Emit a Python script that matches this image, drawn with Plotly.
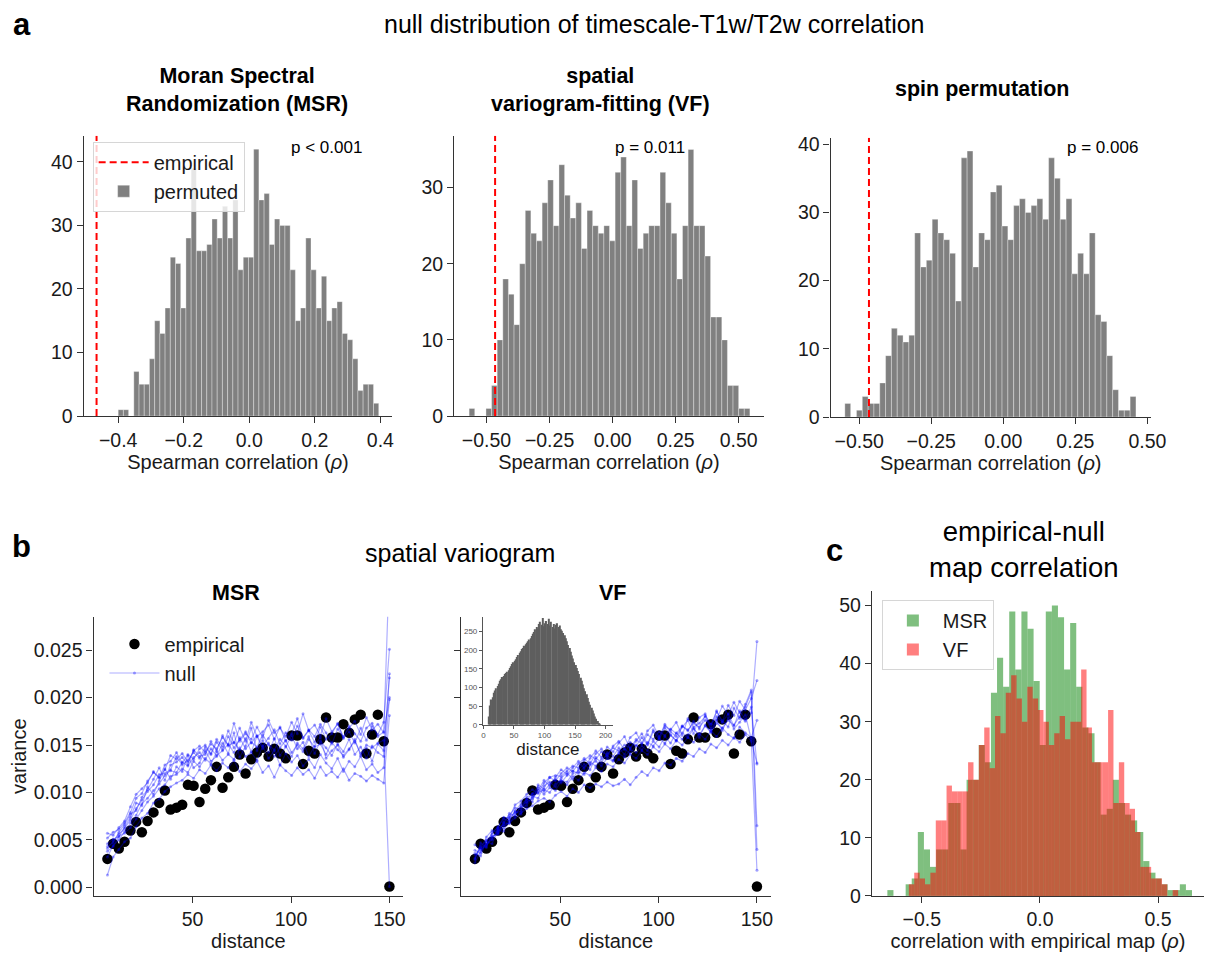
import plotly.graph_objects as go

W, H = 1224, 960
FONT = "Liberation Sans, Arial, Helvetica, sans-serif"
TXT = "#1a1a1a"
SPINE = "#333333"

# ---------------- panel a: null distributions (counts per histogram bin) ----------------
msr_perm_counts = [1, 1, 0, 7, 5, 5, 9, 15, 13, 17, 25, 24, 17, 28, 39, 26, 26, 27, 31, 28,
                   33, 28, 34, 23, 25, 25, 42, 34, 35, 27, 31, 30, 30, 23, 15, 17, 28, 23, 17, 22,
                   15, 17, 18, 13, 12, 9, 4, 5, 5, 2]
msr_bin_start, msr_bin_width = -0.400, 0.0159

vf_perm_counts = [1, 0, 0, 1, 4, 10, 18, 16, 12, 20, 27, 24, 23, 28, 31, 25, 33, 29, 26, 28,
                  22, 27, 25, 24, 25, 23, 32, 34, 25, 31, 22, 24, 25, 25, 32, 28, 24, 18, 25, 35,
                  25, 25, 21, 13, 13, 10, 4, 4, 1, 1]
vf_bin_start, vf_bin_width = -0.569, 0.02227

spin_perm_counts = [2, 0, 1, 3, 2, 2, 5, 9, 13, 12, 11, 12, 27, 22, 23, 29, 27, 26, 24, 17,
                    38, 39, 22, 27, 26, 33, 34, 28, 26, 31, 32, 30, 31, 32, 29, 38, 35, 29, 32, 21,
                    24, 21, 27, 15, 14, 9, 4, 1, 1, 3]
spin_bin_start, spin_bin_width = -0.5497, 0.0202

empirical_rho = -0.466
p_labels = ["p < 0.001", "p = 0.011", "p = 0.006"]

# ---------------- panel b: spatial variograms ----------------
distance_bins = [6.7, 9.6, 12.5, 15.4, 18.4, 21.3, 24.2, 27.1, 30.1, 33.0,
                 35.9, 38.8, 41.8, 44.7, 47.6, 50.5, 53.5, 56.4, 59.3, 62.2,
                 65.2, 68.1, 71.0, 73.9, 76.9, 79.8, 82.7, 85.6, 88.6, 91.5,
                 94.4, 97.3, 100.3, 103.2, 106.1, 109.0, 112.0, 114.9, 117.8, 120.7,
                 123.7, 126.6, 129.5, 132.4, 135.4, 138.3, 141.2, 144.1, 147.1, 150.0]

empirical_variance = [0.0030, 0.0046, 0.0041, 0.0048, 0.0060, 0.0069, 0.0058, 0.0070, 0.0079, 0.0089,
                      0.0102, 0.0082, 0.0084, 0.0087, 0.0108, 0.0107, 0.0090, 0.0104, 0.0113, 0.0127,
                      0.0105, 0.0116, 0.0127, 0.0140, 0.0120, 0.0135, 0.0142, 0.0147, 0.0138, 0.0146,
                      0.0141, 0.0136, 0.0160, 0.0160, 0.0130, 0.0144, 0.0141, 0.0156, 0.0179, 0.0158,
                      0.0158, 0.0172, 0.0163, 0.0177, 0.0182, 0.0141, 0.0161, 0.0182, 0.0154, 0.0001]

msr_null_variance = [
    [0.0052, 0.0058, 0.0061, 0.0068, 0.0079, 0.0094, 0.0099, 0.0112, 0.0121, 0.0116, 0.0124, 0.0139, 0.0135, 0.0141, 0.0132, 0.0144, 0.0149, 0.0142, 0.0151, 0.0146, 0.0158, 0.0150, 0.0173, 0.0154, 0.0162, 0.0156, 0.0169, 0.0158, 0.0176, 0.0163, 0.0168, 0.0159, 0.0174, 0.0162, 0.0183, 0.0165, 0.0171, 0.0160, 0.0178, 0.0164, 0.0172, 0.0159, 0.0168, 0.0175, 0.0161, 0.0179, 0.0166, 0.0172, 0.0163, 0.0340],
    [0.0041, 0.0049, 0.0056, 0.0062, 0.0071, 0.0083, 0.0092, 0.0101, 0.0108, 0.0119, 0.0120, 0.0124, 0.0138, 0.0129, 0.0134, 0.0142, 0.0136, 0.0148, 0.0140, 0.0153, 0.0145, 0.0159, 0.0147, 0.0156, 0.0164, 0.0152, 0.0160, 0.0149, 0.0157, 0.0166, 0.0151, 0.0163, 0.0155, 0.0170, 0.0158, 0.0165, 0.0153, 0.0169, 0.0156, 0.0162, 0.0173, 0.0157, 0.0164, 0.0152, 0.0168, 0.0155, 0.0170, 0.0161, 0.0174, 0.0251],
    [0.0032, 0.0044, 0.0050, 0.0059, 0.0068, 0.0076, 0.0088, 0.0094, 0.0102, 0.0109, 0.0118, 0.0123, 0.0121, 0.0132, 0.0128, 0.0137, 0.0142, 0.0134, 0.0146, 0.0139, 0.0144, 0.0151, 0.0142, 0.0158, 0.0146, 0.0153, 0.0148, 0.0161, 0.0150, 0.0145, 0.0156, 0.0149, 0.0138, 0.0152, 0.0146, 0.0159, 0.0141, 0.0154, 0.0147, 0.0139, 0.0151, 0.0143, 0.0156, 0.0140, 0.0148, 0.0136, 0.0149, 0.0142, 0.0138, 0.0225],
    [0.0046, 0.0051, 0.0053, 0.0064, 0.0074, 0.0089, 0.0086, 0.0106, 0.0098, 0.0112, 0.0125, 0.0114, 0.0127, 0.0122, 0.0139, 0.0126, 0.0131, 0.0145, 0.0133, 0.0138, 0.0152, 0.0141, 0.0163, 0.0137, 0.0149, 0.0168, 0.0144, 0.0155, 0.0142, 0.0157, 0.0139, 0.0148, 0.0160, 0.0146, 0.0153, 0.0138, 0.0149, 0.0158, 0.0136, 0.0144, 0.0150, 0.0137, 0.0145, 0.0156, 0.0139, 0.0147, 0.0133, 0.0151, 0.0144, 0.0221],
    [0.0038, 0.0043, 0.0054, 0.0057, 0.0063, 0.0072, 0.0081, 0.0090, 0.0096, 0.0104, 0.0108, 0.0117, 0.0119, 0.0125, 0.0121, 0.0133, 0.0127, 0.0136, 0.0130, 0.0143, 0.0134, 0.0140, 0.0135, 0.0147, 0.0138, 0.0142, 0.0134, 0.0149, 0.0136, 0.0144, 0.0129, 0.0141, 0.0132, 0.0139, 0.0128, 0.0135, 0.0126, 0.0140, 0.0131, 0.0125, 0.0136, 0.0122, 0.0133, 0.0127, 0.0138, 0.0124, 0.0130, 0.0121, 0.0126, 0.0200],
    [0.0013, 0.0032, 0.0040, 0.0048, 0.0052, 0.0064, 0.0073, 0.0078, 0.0089, 0.0093, 0.0101, 0.0106, 0.0110, 0.0113, 0.0119, 0.0115, 0.0124, 0.0120, 0.0129, 0.0123, 0.0131, 0.0126, 0.0134, 0.0122, 0.0130, 0.0125, 0.0133, 0.0121, 0.0128, 0.0116, 0.0129, 0.0123, 0.0118, 0.0126, 0.0119, 0.0124, 0.0115, 0.0127, 0.0118, 0.0122, 0.0116, 0.0125, 0.0113, 0.0120, 0.0117, 0.0112, 0.0118, 0.0114, 0.0110, 0.0181],
    [0.0057, 0.0055, 0.0063, 0.0070, 0.0085, 0.0098, 0.0104, 0.0110, 0.0122, 0.0115, 0.0129, 0.0133, 0.0142, 0.0131, 0.0140, 0.0135, 0.0146, 0.0150, 0.0141, 0.0156, 0.0148, 0.0165, 0.0152, 0.0168, 0.0154, 0.0174, 0.0159, 0.0164, 0.0171, 0.0156, 0.0169, 0.0154, 0.0162, 0.0178, 0.0157, 0.0166, 0.0159, 0.0172, 0.0163, 0.0151, 0.0167, 0.0158, 0.0170, 0.0162, 0.0154, 0.0168, 0.0173, 0.0159, 0.0164, 0.0198],
    [0.0043, 0.0047, 0.0058, 0.0066, 0.0077, 0.0081, 0.0095, 0.0103, 0.0114, 0.0126, 0.0113, 0.0129, 0.0132, 0.0137, 0.0129, 0.0145, 0.0138, 0.0140, 0.0154, 0.0144, 0.0160, 0.0149, 0.0153, 0.0145, 0.0157, 0.0143, 0.0159, 0.0146, 0.0152, 0.0138, 0.0147, 0.0155, 0.0142, 0.0150, 0.0143, 0.0156, 0.0148, 0.0151, 0.0140, 0.0153, 0.0145, 0.0139, 0.0146, 0.0154, 0.0141, 0.0150, 0.0147, 0.0152, 0.0155, 0.0001],
]

vf_null_variance = [
    [0.0031, 0.0044, 0.0049, 0.0056, 0.0064, 0.0072, 0.0070, 0.0081, 0.0088, 0.0092, 0.0099, 0.0106, 0.0101, 0.0109, 0.0114, 0.0110, 0.0118, 0.0123, 0.0120, 0.0127, 0.0132, 0.0128, 0.0135, 0.0139, 0.0134, 0.0142, 0.0146, 0.0141, 0.0150, 0.0145, 0.0153, 0.0149, 0.0157, 0.0152, 0.0160, 0.0155, 0.0163, 0.0158, 0.0167, 0.0161, 0.0170, 0.0164, 0.0173, 0.0168, 0.0176, 0.0171, 0.0180, 0.0175, 0.0184, 0.0259],
    [0.0045, 0.0040, 0.0053, 0.0060, 0.0058, 0.0069, 0.0076, 0.0084, 0.0082, 0.0095, 0.0098, 0.0102, 0.0113, 0.0107, 0.0116, 0.0124, 0.0119, 0.0126, 0.0133, 0.0125, 0.0136, 0.0144, 0.0137, 0.0148, 0.0143, 0.0152, 0.0159, 0.0146, 0.0154, 0.0162, 0.0151, 0.0166, 0.0158, 0.0172, 0.0164, 0.0159, 0.0169, 0.0176, 0.0162, 0.0179, 0.0183, 0.0168, 0.0186, 0.0174, 0.0192, 0.0181, 0.0196, 0.0187, 0.0199, 0.0218],
    [0.0026, 0.0038, 0.0046, 0.0051, 0.0062, 0.0066, 0.0078, 0.0075, 0.0086, 0.0090, 0.0093, 0.0104, 0.0098, 0.0105, 0.0102, 0.0112, 0.0108, 0.0117, 0.0113, 0.0121, 0.0118, 0.0126, 0.0122, 0.0130, 0.0127, 0.0135, 0.0131, 0.0140, 0.0136, 0.0144, 0.0140, 0.0148, 0.0143, 0.0151, 0.0146, 0.0155, 0.0150, 0.0158, 0.0153, 0.0162, 0.0156, 0.0165, 0.0159, 0.0168, 0.0161, 0.0157, 0.0169, 0.0163, 0.0158, 0.0176],
    [0.0034, 0.0041, 0.0043, 0.0054, 0.0056, 0.0065, 0.0068, 0.0073, 0.0079, 0.0083, 0.0086, 0.0091, 0.0094, 0.0090, 0.0097, 0.0101, 0.0096, 0.0104, 0.0100, 0.0108, 0.0105, 0.0109, 0.0106, 0.0111, 0.0107, 0.0109, 0.0114, 0.0108, 0.0116, 0.0122, 0.0118, 0.0126, 0.0123, 0.0131, 0.0129, 0.0136, 0.0133, 0.0141, 0.0138, 0.0146, 0.0142, 0.0151, 0.0147, 0.0155, 0.0150, 0.0158, 0.0153, 0.0161, 0.0154, 0.0131],
    [0.0036, 0.0033, 0.0048, 0.0046, 0.0060, 0.0059, 0.0071, 0.0080, 0.0077, 0.0089, 0.0096, 0.0094, 0.0107, 0.0111, 0.0106, 0.0115, 0.0121, 0.0114, 0.0124, 0.0130, 0.0124, 0.0137, 0.0131, 0.0142, 0.0138, 0.0147, 0.0140, 0.0153, 0.0149, 0.0158, 0.0150, 0.0164, 0.0156, 0.0168, 0.0161, 0.0154, 0.0170, 0.0165, 0.0175, 0.0167, 0.0181, 0.0172, 0.0185, 0.0176, 0.0169, 0.0189, 0.0178, 0.0193, 0.0208, 0.0065],
    [0.0029, 0.0047, 0.0042, 0.0058, 0.0063, 0.0074, 0.0073, 0.0087, 0.0091, 0.0098, 0.0103, 0.0099, 0.0110, 0.0116, 0.0112, 0.0120, 0.0126, 0.0122, 0.0130, 0.0136, 0.0130, 0.0141, 0.0146, 0.0138, 0.0149, 0.0154, 0.0145, 0.0158, 0.0163, 0.0152, 0.0165, 0.0171, 0.0159, 0.0170, 0.0166, 0.0174, 0.0160, 0.0178, 0.0169, 0.0173, 0.0180, 0.0166, 0.0177, 0.0191, 0.0182, 0.0195, 0.0184, 0.0190, 0.0206, 0.0040],
    [0.0039, 0.0036, 0.0050, 0.0053, 0.0057, 0.0068, 0.0067, 0.0077, 0.0085, 0.0086, 0.0095, 0.0100, 0.0103, 0.0100, 0.0109, 0.0113, 0.0111, 0.0120, 0.0122, 0.0119, 0.0129, 0.0133, 0.0128, 0.0136, 0.0133, 0.0141, 0.0137, 0.0145, 0.0142, 0.0149, 0.0144, 0.0154, 0.0148, 0.0159, 0.0152, 0.0163, 0.0156, 0.0161, 0.0168, 0.0158, 0.0171, 0.0163, 0.0176, 0.0165, 0.0179, 0.0167, 0.0174, 0.0182, 0.0156, 0.0018],
    [0.0030, 0.0042, 0.0045, 0.0050, 0.0061, 0.0062, 0.0074, 0.0079, 0.0080, 0.0093, 0.0090, 0.0108, 0.0104, 0.0116, 0.0118, 0.0117, 0.0123, 0.0128, 0.0126, 0.0134, 0.0139, 0.0135, 0.0143, 0.0140, 0.0147, 0.0144, 0.0150, 0.0147, 0.0156, 0.0151, 0.0161, 0.0156, 0.0164, 0.0160, 0.0167, 0.0162, 0.0170, 0.0166, 0.0173, 0.0169, 0.0176, 0.0172, 0.0180, 0.0174, 0.0183, 0.0170, 0.0186, 0.0177, 0.0190, 0.0130],
]

# inset: histogram of pairwise distances
inset_counts = [22, 52, 68, 74, 86, 92, 98, 104, 110, 118, 122, 128, 131, 136, 139, 142, 146, 152, 157, 163,
                168, 172, 176, 182, 187, 193, 197, 203, 206, 212, 216, 220, 224, 229, 232, 238, 244, 249, 256, 262,
                258, 270, 276, 268, 286, 264, 272, 278, 270, 284, 266, 276, 262, 270, 258, 268, 272, 262, 266, 256,
                252, 246, 240, 232, 224, 214, 206, 196, 186, 178, 168, 160, 152, 144, 136, 126, 118, 108, 98, 90,
                82, 72, 62, 54, 46, 38, 30, 22, 16, 10, 5, 2]
inset_bin_start, inset_bin_width = 8.0, 2.0

# ---------------- panel c: empirical-null map correlation ----------------
corr_msr_counts = [1, 0, 0, 2, 3, 11, 8, 5, 8, 8, 16, 16, 8, 20, 20, 26, 23, 35, 41, 36,
                   49, 39, 49, 46, 37, 26, 49, 50, 48, 39, 47, 36, 29, 28, 23, 14, 15, 20, 16, 14,
                   13, 11, 6, 4, 3, 2, 1, 1, 2, 1]
corr_msr_bin_start, corr_msr_bin_width = -0.646, 0.0258
corr_vf_counts = [2, 4, 3, 2, 4, 13, 13, 19, 18, 18, 18, 23, 20, 26, 29, 22, 31, 28, 35, 38,
                  34, 30, 36, 34, 32, 30, 26, 28, 31, 27, 30, 30, 39, 29, 23, 23, 23, 32, 16, 23,
                  16, 15, 11, 5, 5, 3, 3, 2, 0, 1]
corr_vf_bin_start, corr_vf_bin_width = -0.555, 0.0228


def bin_centers(start, width, n):
    return [start + width * (i + 0.5) for i in range(n)]


def dom_x(x0, x1):
    return [x0 / W, x1 / W]


def dom_y(y0, y1):
    return [1 - y1 / H, 1 - y0 / H]


fig = go.Figure()

# ---- panel a traces
a_ranges_y = [44.1, 36.8, 40.95]
hist_specs = [
    ("x", "y", msr_perm_counts, msr_bin_start, msr_bin_width, a_ranges_y[0], True),
    ("x2", "y2", vf_perm_counts, vf_bin_start, vf_bin_width, a_ranges_y[1], False),
    ("x3", "y3", spin_perm_counts, spin_bin_start, spin_bin_width, a_ranges_y[2], False),
]
for xa, ya, counts, start, width, ytop, show in hist_specs:
    fig.add_trace(go.Bar(
        x=bin_centers(start, width, len(counts)), y=counts, width=width,
        marker=dict(color="#808080", line=dict(color="rgba(255,255,255,0.55)", width=0.6)),
        name="permuted", xaxis=xa, yaxis=ya, showlegend=show, legend="legend", legendrank=2))
    fig.add_trace(go.Scatter(
        x=[empirical_rho, empirical_rho], y=[0, ytop], mode="lines",
        line=dict(color="#ff0000", width=2, dash="7px,4px"),
        name="empirical", xaxis=xa, yaxis=ya, showlegend=show, legend="legend", legendrank=1))

# ---- panel b traces
for xa, ya, nulls in [("x4", "y4", msr_null_variance), ("x5", "y5", vf_null_variance)]:
    fig.add_trace(go.Scatter(
        x=distance_bins, y=empirical_variance, mode="markers",
        marker=dict(size=10.5, color="black"), cliponaxis=False,
        name="empirical", xaxis=xa, yaxis=ya, showlegend=(xa == "x4"), legend="legend2", legendrank=1))
    for i, row in enumerate(nulls):
        fig.add_trace(go.Scatter(
            x=distance_bins, y=row, mode="lines+markers",
            line=dict(color="rgba(0,0,255,0.32)", width=1.2),
            marker=dict(size=3, color="rgba(0,0,255,0.35)"),
            name="null", xaxis=xa, yaxis=ya, showlegend=(xa == "x4" and i == 0),
            legend="legend2", legendrank=2))

fig.add_trace(go.Bar(
    x=bin_centers(inset_bin_start, inset_bin_width, len(inset_counts)), y=inset_counts,
    width=inset_bin_width, marker=dict(color="#5e5e5e", line=dict(width=0)),
    xaxis="x6", yaxis="y6", showlegend=False, name="distance"))

# ---- panel c traces
fig.add_trace(go.Bar(
    x=bin_centers(corr_msr_bin_start, corr_msr_bin_width, len(corr_msr_counts)), y=corr_msr_counts,
    width=corr_msr_bin_width, marker=dict(color="rgba(0,128,0,0.5)", line=dict(width=0)),
    name="MSR", xaxis="x7", yaxis="y7", legend="legend3", legendrank=1))
fig.add_trace(go.Bar(
    x=bin_centers(corr_vf_bin_start, corr_vf_bin_width, len(corr_vf_counts)), y=corr_vf_counts,
    width=corr_vf_bin_width, marker=dict(color="rgba(255,0,0,0.5)", line=dict(width=0)),
    name="VF", xaxis="x7", yaxis="y7", legend="legend3", legendrank=2))

# ---------------- axes ----------------
TICKFONT = dict(size=19.5, color=TXT, family=FONT)
LABELFONT = dict(size=20, color=TXT, family=FONT)


def ax(**kw):
    base = dict(showline=True, linecolor=SPINE, linewidth=1.3, ticks="outside", ticklen=6,
                tickwidth=1.3, tickcolor=SPINE, showgrid=False, zeroline=False,
                tickfont=TICKFONT, mirror=False, fixedrange=True)
    base.update(kw)
    return base


rho_label = "Spearman correlation (<i>ρ</i>)"
layout_axes = dict(
    xaxis=ax(domain=dom_x(83, 396), range=[-0.505, 0.436], anchor="y",
             tickvals=[-0.4, -0.2, 0.0, 0.2, 0.4], tickformat=".1f",
             title=dict(text=rho_label, font=LABELFONT, standoff=0)),
    yaxis=ax(domain=dom_y(133, 418), range=[0, a_ranges_y[0]], anchor="x",
             tickvals=[0, 10, 20, 30, 40]),
    xaxis2=ax(domain=dom_x(459, 773), range=[-0.628, 0.599], anchor="y2",
              tickvals=[-0.5, -0.25, 0.0, 0.25, 0.5], tickformat=".2f",
              title=dict(text=rho_label, font=LABELFONT, standoff=0)),
    yaxis2=ax(domain=dom_y(133, 418), range=[0, a_ranges_y[1]], anchor="x2",
              tickvals=[0, 10, 20, 30]),
    xaxis3=ax(domain=dom_x(841, 1166), range=[-0.599, 0.512], anchor="y3",
              tickvals=[-0.5, -0.25, 0.0, 0.25, 0.5], tickformat=".2f",
              title=dict(text=rho_label, font=LABELFONT, standoff=0)),
    yaxis3=ax(domain=dom_y(135, 419), range=[0, a_ranges_y[2]], anchor="x3",
              tickvals=[0, 10, 20, 30, 40]),
    xaxis4=ax(domain=dom_x(93, 407), range=[-0.3, 156.9], anchor="y4",
              tickvals=[50, 100, 150],
              title=dict(text="distance", font=LABELFONT, standoff=0)),
    yaxis4=ax(domain=dom_y(622, 906), range=[-0.0009, 0.02853], anchor="x4",
              tickvals=[0, 0.005, 0.01, 0.015, 0.02, 0.025], tickformat=".3f",
              title=dict(text="variance", font=LABELFONT, standoff=1)),
    xaxis5=ax(domain=dom_x(466, 780), range=[-0.3, 156.9], anchor="y5",
              tickvals=[50, 100, 150],
              title=dict(text="distance", font=LABELFONT, standoff=0)),
    yaxis5=ax(domain=dom_y(622, 906), range=[-0.0009, 0.02853], anchor="x5",
              tickvals=[0, 0.005, 0.01, 0.015, 0.02, 0.025], showticklabels=False),
    xaxis6=ax(domain=dom_x(488, 620), range=[-1, 212], anchor="y6",
              tickvals=[0, 50, 100, 150, 200], linewidth=0.8, tickwidth=0.8, ticklen=3,
              linecolor="#555", tickcolor="#555",
              tickfont=dict(size=8, color="#555", family=FONT),
              title=dict(text="distance", font=dict(size=17, color=TXT, family=FONT), standoff=2)),
    yaxis6=ax(domain=dom_y(622, 732), range=[0, 290], anchor="x6",
              tickvals=[0, 50, 100, 150, 200, 250], linewidth=0.8, tickwidth=0.8, ticklen=3,
              linecolor="#555", tickcolor="#555",
              tickfont=dict(size=8, color="#555", family=FONT)),
    xaxis7=ax(domain=dom_x(883, 1220), range=[-0.711, 0.695], anchor="y7",
              tickvals=[-0.5, 0.0, 0.5], tickformat=".1f",
              title=dict(text="correlation with empirical map (<i>ρ</i>)", font=LABELFONT, standoff=0)),
    yaxis7=ax(domain=dom_y(596, 906), range=[0, 52.5], anchor="x7",
              tickvals=[0, 10, 20, 30, 40, 50]),
)


def ann(text, x, y, size, bold=False, **kw):
    t = f"<b>{text}</b>" if bold else text
    d = dict(text=t, x=x / W, y=1 - y / H, xref="paper", yref="paper", showarrow=False,
             xanchor="center", yanchor="middle", font=dict(size=size, color="black", family=FONT))
    d.update(kw)
    return d


annotations = [
    ann("a", 20, 20, 31, bold=True),
    ann("null distribution of timescale-T1w/T2w correlation", 662, 19, 25),
    ann("Moran Spectral<br>Randomization (MSR)", 239, 86, 21.5, bold=True),
    ann("spatial<br>variogram-fitting (VF)", 607, 86, 21.5, bold=True),
    ann("spin permutation", 995, 85, 21.5, bold=True),
    ann(p_labels[0], 329, 145, 17),
    ann(p_labels[1], 658, 145, 17),
    ann(p_labels[2], 1117, 145, 17),
    ann("b", 20, 551, 31, bold=True),
    ann("spatial variogram", 465, 557, 25),
    ann("MSR", 237, 598, 21.5, bold=True),
    ann("VF", 620, 598, 21.5, bold=True),
    ann("c", 845, 555, 31, bold=True),
    ann("empirical-null<br>map correlation", 1037, 554, 27.5),
]

LEGFONT = dict(size=20, color=TXT, family=FONT)
fig.update_layout(
    width=W, height=H, autosize=False,
    margin=dict(l=0, r=0, t=0, b=0),
    paper_bgcolor="white", plot_bgcolor="rgba(0,0,0,0)",
    font=dict(family=FONT, color=TXT),
    barmode="overlay",
    annotations=annotations,
    legend=dict(x=92 / W, y=1 - 139 / H, xanchor="left", yanchor="top",
                bgcolor="rgba(255,255,255,0.8)", bordercolor="#d6d6d6", borderwidth=1,
                font=LEGFONT, itemwidth=50, tracegroupgap=0),
    legend2=dict(x=104 / W, y=1 - 630 / H, xanchor="left", yanchor="top",
                 bgcolor="rgba(0,0,0,0)", borderwidth=0,
                 font=LEGFONT, itemwidth=50, tracegroupgap=0),
    legend3=dict(x=893 / W, y=1 - 605 / H, xanchor="left", yanchor="top",
                 bgcolor="rgba(255,255,255,0.8)", bordercolor="#d6d6d6", borderwidth=1,
                 font=LEGFONT, itemwidth=50, tracegroupgap=0),
    **layout_axes,
)

fig.write_html("out.html",
               config={"displayModeBar": False},
               post_script="document.body.style.margin='0';document.body.style.overflow='hidden';")
